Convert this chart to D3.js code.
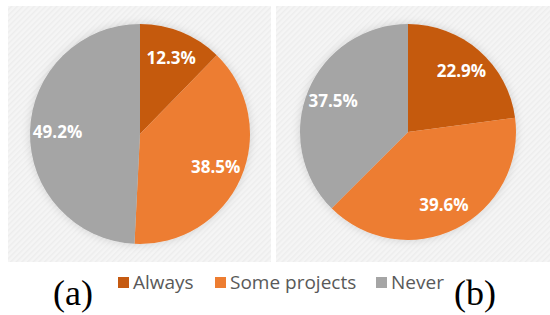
<!DOCTYPE html>
<html>
<head>
<meta charset="utf-8">
<script src="https://cdn.jsdelivr.net/npm/d3@7"></script>
<style>
	body { margin: 0; background: #fff; }
	svg { display: block; }
</style>
</head>
<body>
<svg></svg>
<script>
const categories = ["Always", "Some projects", "Never"];
const valuesA = [12.3, 38.5, 49.2];
const valuesB = [22.9, 39.6, 37.5];
const panelLabels = ["(a)", "(b)"];

const colors = d3.scaleOrdinal().domain(categories).range(["#c55a11", "#ed7d31", "#a5a5a5"]);

const svg = d3.select("svg").attr("width", 550).attr("height", 315);

const defs = svg.append("defs");
const hatch = defs.append("pattern")
	.attr("id", "hatch")
	.attr("patternUnits", "userSpaceOnUse")
	.attr("width", 4).attr("height", 4)
	.attr("patternTransform", "rotate(45)");
hatch.append("rect").attr("width", 4).attr("height", 4).attr("fill", "#f5f5f5");
hatch.append("rect").attr("width", 1.5).attr("height", 4).attr("fill", "#ededed");

const shadow = defs.append("filter").attr("id", "shadow")
	.attr("x", "-20%").attr("y", "-20%").attr("width", "140%").attr("height", "140%");
shadow.append("feDropShadow")
	.attr("dx", 0).attr("dy", 0).attr("stdDeviation", 4)
	.attr("flood-color", "#000").attr("flood-opacity", 0.15);

const pie = d3.pie().sort(null).value((d) => d);

const panels = [
	{ values: valuesA, x: 8, w: 263, cx: 140, cy: 134, r: 110, label: panelLabels[0], lx: 73 },
	{ values: valuesB, x: 276, w: 274, cx: 408, cy: 132, r: 108, label: panelLabels[1], lx: 475 }
];

panels.forEach((p) => {
	svg.append("rect")
		.attr("x", p.x).attr("y", 6)
		.attr("width", p.w).attr("height", 256)
		.attr("fill", "url(#hatch)");

	const g = svg.append("g").attr("transform", `translate(${p.cx},${p.cy})`);
	const arc = d3.arc().innerRadius(0).outerRadius(p.r);
	const labelArc = d3.arc().innerRadius(p.r * 0.75).outerRadius(p.r * 0.75);
	const arcs = pie(p.values);

	g.append("g").attr("filter", "url(#shadow)")
		.selectAll("path")
		.data(arcs)
		.enter()
		.append("path")
		.attr("d", arc)
		.attr("fill", (d, i) => colors(categories[i]));

	g.selectAll("text")
		.data(arcs)
		.enter()
		.append("text")
		.attr("transform", (d) => `translate(${labelArc.centroid(d)})`)
		.attr("text-anchor", "middle")
		.attr("dy", "0.35em")
		.attr("fill", "#fff")
		.style("font-family", "'Open Sans', sans-serif")
		.style("font-weight", "bold")
		.style("font-size", "17px")
		.text((d) => d.data.toFixed(1) + "%");

	svg.append("text")
		.attr("x", p.lx).attr("y", 305)
		.attr("text-anchor", "middle")
		.style("font-family", "'Liberation Serif', 'DejaVu Serif', serif")
		.style("font-size", "36px")
		.attr("fill", "#000")
		.text(p.label);
});

const legendX = [118, 215, 376];
const legend = svg.append("g").attr("class", "legend");
categories.forEach((c, i) => {
	legend.append("rect")
		.attr("x", legendX[i]).attr("y", 277)
		.attr("width", 11).attr("height", 11)
		.attr("fill", colors(c));
	legend.append("text")
		.attr("x", legendX[i] + 15).attr("y", 289)
		.attr("fill", "#595959")
		.style("font-family", "'Open Sans', sans-serif")
		.style("font-size", "19px")
		.text(c);
});
</script>
</body>
</html>
